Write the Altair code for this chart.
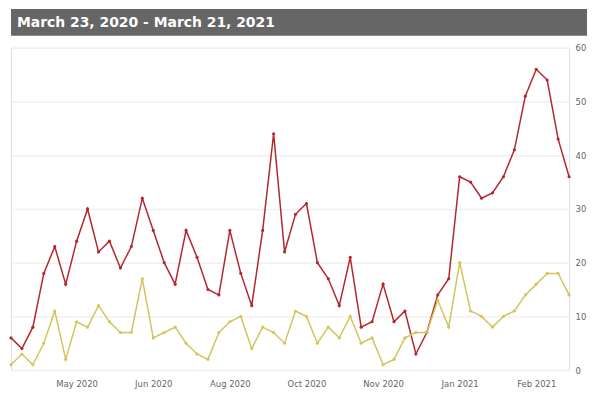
import altair as alt
import pandas as pd

title_text = "March 23, 2020 - March 21, 2021"
week_end = pd.date_range("2020-03-29", periods=52, freq="7D").strftime("%Y-%m-%d").tolist()

red_values = [6, 4, 8, 18, 23, 16, 24, 30, 22, 24, 19, 23, 32, 26, 20, 16, 26, 21,
              15, 14, 26, 18, 12, 26, 44, 22, 29, 31, 20, 17, 12, 21, 8, 9, 16,
              9, 11, 3, 7, 14, 17, 36, 35, 32, 33, 36, 41, 51, 56, 54, 43, 36]
yellow_values = [1, 3, 1, 5, 11, 2, 9, 8, 12, 9, 7, 7, 17, 6, 7, 8, 5, 3,
                 2, 7, 9, 10, 4, 8, 7, 5, 11, 10, 5, 8, 6, 10, 5, 6, 1,
                 2, 6, 7, 7, 13, 8, 20, 11, 10, 8, 10, 11, 14, 16, 18, 18, 14]
series_names = ["Red series", "Yellow series"]
series_colors = ["#b3282d", "#d4c45c"]
tick_index = [6, 13, 20, 27, 34, 41, 48]
y_ticks = [0, 10, 20, 30, 40, 50, 60]

rows = []
for name, vals in zip(series_names, [red_values, yellow_values]):
    for d, v in zip(week_end, vals):
        rows.append({"date": d, "value": v, "series": name})
df = pd.DataFrame(rows)

tick_dates = []
for i in tick_index:
    ts = pd.Timestamp(week_end[i])
    tick_dates.append(alt.DateTime(year=ts.year, month=ts.month, date=ts.day, utc=True))
first = pd.Timestamp(week_end[0])
last = pd.Timestamp(week_end[-1])

W, H = 561, 324
font = "DejaVu Sans"

x_enc = alt.X("date:T",
              scale=alt.Scale(type="utc", nice=False,
                              domain=[alt.DateTime(year=first.year, month=first.month, date=first.day, utc=True),
                                      alt.DateTime(year=last.year, month=last.month, date=last.day, utc=True)]),
              axis=alt.Axis(values=tick_dates, format="%b %Y",
                            title=None, grid=False, ticks=False, domain=False,
                            labelFont=font, labelFontSize=8.5, labelColor="#666666",
                            labelPadding=9))
y_enc = alt.Y("value:Q",
              scale=alt.Scale(domain=[0, 60], nice=False),
              axis=alt.Axis(orient="right", values=y_ticks, title=None,
                            grid=True, gridColor="#f0f0f0", gridWidth=1.5,
                            ticks=False, domain=False,
                            labelFont=font, labelFontSize=8.5, labelColor="#666666",
                            labelPadding=6))
color_enc = alt.Color("series:N", scale=alt.Scale(domain=series_names, range=series_colors),
                      legend=None)

base = alt.Chart(df).encode(x=x_enc, y=y_enc, color=color_enc, detail="series:N")
lines = base.mark_line(strokeWidth=1.5)
points = base.mark_circle(size=10, opacity=1)

one = alt.Data(values=[{"k": 1}])
bar = alt.Chart(one).mark_rect(color="#666666").encode(
    x=alt.value(0), x2=alt.value(579), y=alt.value(-39), y2=alt.value(-12))
title = alt.Chart(one).mark_text(align="left", baseline="middle", font=font,
                                 fontWeight="bold", fontSize=14, color="white").encode(
    x=alt.value(6), y=alt.value(-25), text=alt.value(title_text))

chart = alt.layer(bar, title, lines, points).properties(
    width=W, height=H, padding=0
).configure_view(stroke="#c6d9e8", strokeWidth=1.2).configure(background="white")

chart.save("out.html", embed_options={"renderer": "svg", "actions": False})
